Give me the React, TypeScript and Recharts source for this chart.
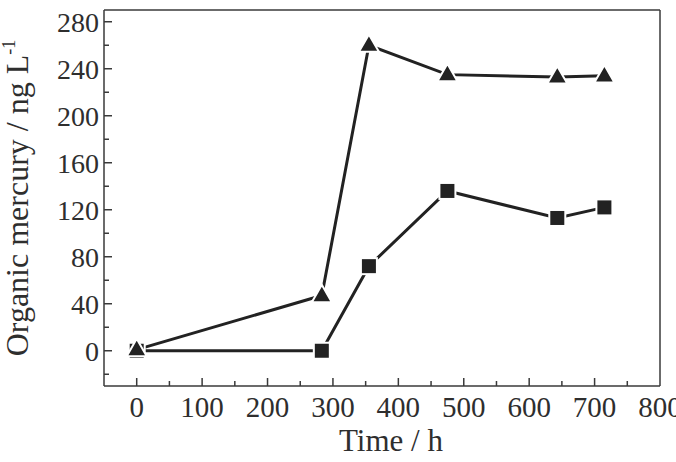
import { LineChart, Line, XAxis, YAxis } from "recharts";

const times = [0, 283, 355, 475, 643, 715];
const squareValues = [0, 0, 72, 136, 113, 122];
const triangleValues = [1, 47, 260, 235, 233, 234];

const xTicks = [0, 50, 100, 150, 200, 250, 300, 350, 400, 450, 500, 550, 600, 650, 700, 750, 800];
const yTicks = [-20, 0, 20, 40, 60, 80, 100, 120, 140, 160, 180, 200, 220, 240, 260, 280];

const data = times.map((t, i) => ({
  time: t,
  square: squareValues[i],
  triangle: triangleValues[i],
}));

const INK = "#222";
const FRAME = "#3a3a3a";
const TEXT = "#2e2e2e";
const FONT = "'Liberation Serif', 'Times New Roman', serif";

const YTick = (props: any) => {
  const { x, y, payload } = props;
  const major = payload.value % 40 === 0;
  return (
    <g>
      <line x1={x} x2={x + (major ? 8 : 5)} y1={y} y2={y} stroke={FRAME} strokeWidth={1.5} />
      {major && (
        <text x={x - 5} y={y} dy="0.35em" textAnchor="end" fontFamily={FONT} fontSize={28} fill={TEXT}>
          {payload.value}
        </text>
      )}
    </g>
  );
};

const XTick = (props: any) => {
  const { x, y, payload } = props;
  const major = payload.value % 100 === 0;
  const edge = payload.value === 800;
  return (
    <g>
      {!edge && <line x1={x} x2={x} y1={y} y2={y - (major ? 8 : 5)} stroke={FRAME} strokeWidth={1.5} />}
      {major && (
        <text x={x} y={y + 31} textAnchor="middle" fontFamily={FONT} fontSize={29} fill={TEXT}>
          {payload.value}
        </text>
      )}
    </g>
  );
};

const Square = (p: any) => (
  <rect
    key={`sq-${p.index}`}
    x={p.cx - 8}
    y={p.cy - 8}
    width={16}
    height={16}
    fill={INK}
    stroke="#fff"
    strokeWidth={2}
  />
);

const Triangle = (p: any) => {
  const s = 20;
  const h = s * 0.87;
  const pts = `${p.cx},${p.cy - h * 0.62} ${p.cx - s / 2},${p.cy + h * 0.38} ${p.cx + s / 2},${p.cy + h * 0.38}`;
  return <polygon key={`tr-${p.index}`} points={pts} fill={INK} stroke="#fff" strokeWidth={2} />;
};

export default function App() {
  return (
    <div style={{ position: "absolute", left: 0, top: 0, background: "#fff" }}>
      <LineChart width={676} height={462} data={data} margin={{ top: 9, right: 15, bottom: 75, left: 103 }}>
        <XAxis
          dataKey="time"
          type="number"
          domain={[-50, 800]}
          ticks={xTicks}
          allowDataOverflow
          height={1}
          tickSize={0}
          tickMargin={0}
          tick={<XTick />}
          axisLine={{ stroke: FRAME, strokeWidth: 1.5 }}
          label={{
            content: () => (
              <text x={391} y={451} textAnchor="middle" fontFamily={FONT} fontSize={31} fill={TEXT}>
                Time / h
              </text>
            ),
          }}
        />
        <XAxis
          xAxisId="top"
          orientation="top"
          type="number"
          domain={[-50, 800]}
          height={1}
          tick={false}
          tickLine={false}
          axisLine={{ stroke: FRAME, strokeWidth: 1.5 }}
        />
        <YAxis
          type="number"
          domain={[-30, 290]}
          ticks={yTicks}
          allowDataOverflow
          width={1}
          tickSize={0}
          tickMargin={0}
          tick={<YTick />}
          axisLine={{ stroke: FRAME, strokeWidth: 1.5 }}
          label={{
            content: () => (
              <text
                transform="translate(28, 198) rotate(-90)"
                textAnchor="middle"
                fontFamily={FONT}
                fontSize={32}
                fill={TEXT}
              >
                Organic mercury / ng L
                <tspan fontSize={18} dy={-13}>-1</tspan>
              </text>
            ),
          }}
        />
        <YAxis
          yAxisId="right"
          orientation="right"
          type="number"
          domain={[-30, 290]}
          width={1}
          tick={false}
          tickLine={false}
          axisLine={{ stroke: FRAME, strokeWidth: 1.5 }}
        />
        <Line
          dataKey="square"
          stroke={INK}
          strokeWidth={3}
          dot={Square}
          activeDot={false}
          isAnimationActive={false}
        />
        <Line
          dataKey="triangle"
          stroke={INK}
          strokeWidth={3}
          dot={Triangle}
          activeDot={false}
          isAnimationActive={false}
        />
      </LineChart>
    </div>
  );
}
